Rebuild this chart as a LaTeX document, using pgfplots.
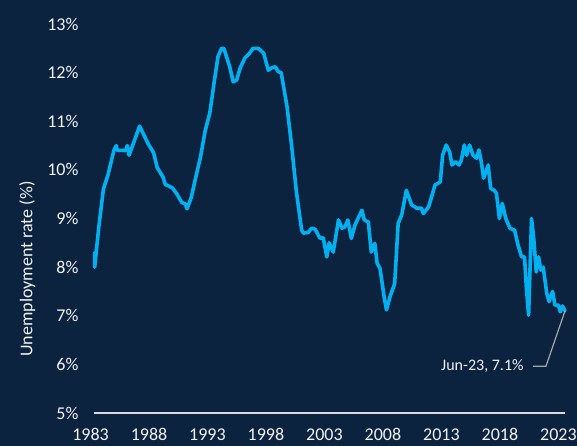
\documentclass[border=0pt]{standalone}
\usepackage{fontspec}
\setmainfont{Carlito}
\usepackage{pgfplots}
\usepackage{pgfplotstable}
\pgfplotsset{compat=1.18}
\definecolor{bg}{RGB}{12,35,64}
\definecolor{ln}{RGB}{0,176,240}
\definecolor{axc}{RGB}{217,217,217}
\definecolor{txt}{RGB}{242,242,242}
\definecolor{lead}{RGB}{166,166,166}

\pgfplotstableread{
year rate
1983.05 8.3
1983.06 8.0
1983.4 8.8
1983.8 9.6
1984.2 9.9
1984.7 10.4
1984.9 10.5
1985.0 10.4
1985.7 10.4
1985.85 10.5
1986.0 10.3
1986.3 10.5
1986.9 10.9
1987.3 10.7
1987.6 10.55
1988.1 10.35
1988.4 10.05
1988.9 9.85
1989.1 9.7
1989.7 9.63
1990.1 9.5
1990.5 9.33
1990.8 9.3
1990.95 9.2
1991.3 9.42
1991.7 9.85
1992.1 10.26
1992.5 10.8
1992.9 11.17
1993.3 11.85
1993.6 12.33
1993.9 12.5
1994.1 12.5
1994.6 12.12
1994.9 11.81
1995.2 11.85
1995.5 12.1
1995.9 12.3
1996.3 12.4
1996.6 12.5
1997.05 12.5
1997.5 12.4
1997.9 12.05
1998.2 12.1
1998.5 12.12
1998.75 12.02
1999.0 12.0
1999.5 11.3
1999.9 10.48
2000.3 9.55
2000.75 8.76
2000.9 8.7
2001.3 8.71
2001.6 8.8
2001.9 8.78
2002.3 8.6
2002.6 8.6
2002.9 8.21
2003.1 8.5
2003.45 8.31
2003.9 8.97
2004.2 8.8
2004.45 8.83
2004.7 8.97
2005.0 8.59
2005.3 8.86
2005.9 9.17
2006.1 8.97
2006.45 8.93
2006.7 8.31
2007.0 8.49
2007.2 8.08
2007.45 7.97
2007.8 7.39
2008.0 7.12
2008.3 7.39
2008.7 7.66
2009.0 8.9
2009.3 9.07
2009.7 9.58
2010.15 9.28
2010.6 9.21
2011.0 9.21
2011.15 9.1
2011.6 9.24
2011.9 9.48
2012.15 9.69
2012.6 9.75
2012.8 10.3
2013.1 10.51
2013.4 10.37
2013.6 10.1
2013.9 10.17
2014.2 10.1
2014.4 10.2
2014.65 10.51
2014.85 10.3
2015.1 10.51
2015.4 10.3
2015.7 10.24
2015.9 10.41
2016.1 10.17
2016.3 9.83
2016.7 10.1
2016.9 9.62
2017.2 9.58
2017.4 9.52
2017.65 9.0
2017.9 9.31
2018.2 9.0
2018.55 8.8
2018.95 8.76
2019.25 8.45
2019.55 8.21
2019.8 8.21
2019.95 7.6
2020.15 7.01
2020.4 9.0
2020.6 8.56
2020.8 7.9
2021.0 8.21
2021.2 7.94
2021.4 8.0
2021.7 7.46
2021.9 7.29
2022.2 7.5
2022.4 7.22
2022.7 7.22
2022.85 7.08
2023.05 7.2
2023.26 7.1
}\unemp

\begin{document}
\begin{tikzpicture}
\fill[bg] (0,0) rectangle (577pt,446pt);
\useasboundingbox (0,0) rectangle (577pt,446pt);
\begin{axis}[
  at={(94pt,33pt)}, anchor=south west,
  scale only axis, width=471pt, height=389pt,
  xmin=1983, xmax=2023.26, ymin=5, ymax=13,
  axis x line*=bottom, axis y line*=left,
  x axis line style={draw=axc, line width=1.5pt, -},
  y axis line style={draw=none},
  xtick={1983,1988,1993,1998,2003,2008,2013,2018,2023},
  ytick={5,6,7,8,9,10,11,12,13},
  major tick length=0pt,
  tick label style={font=\fontsize{18}{21}\selectfont, text=txt},
  xticklabel style={yshift=-12pt, xshift=-3.5pt},
  yticklabel style={xshift=-12pt},
  /pgf/number format/assume math mode=true,
  /pgf/number format/1000 sep={},
  yticklabel={\pgfmathprintnumber{\tick}\%},
  ylabel={Unemployment rate (\%)},
  ylabel style={at={(rel axis cs:-0.142,0.37)}, anchor=center, rotate=0,
    font=\fontsize{18}{21}\selectfont, text=txt},
  clip=false,
]
\addplot[ln, line width=3.6pt, line join=round, line cap=round] table[x=year, y=rate] {\unemp};
\draw[lead, line width=1.2pt] (axis cs:2023.26,7.1) -- (axis cs:2021.63,5.96) -- (axis cs:2020.52,5.96);
\node[text=txt, font=\fontsize{16}{19}\selectfont] at (axis cs:2016.2,5.96) {Jun-23, 7.1\%};
\end{axis}
\end{tikzpicture}
\end{document}
